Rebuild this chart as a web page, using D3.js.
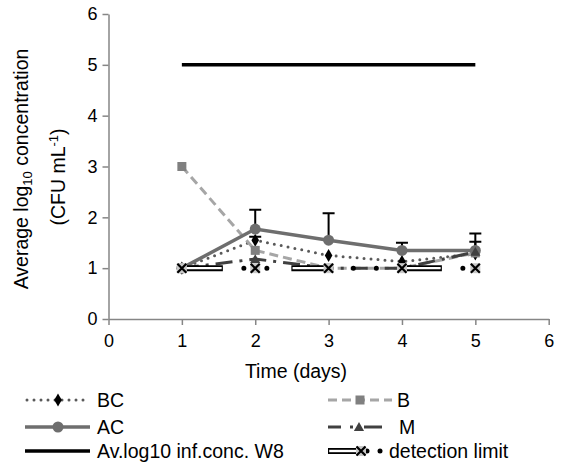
<!DOCTYPE html>
<html>
<head>
<meta charset="utf-8">
<script src="https://cdn.jsdelivr.net/npm/d3@7"></script>
<style>
  html, body { margin: 0; padding: 0; background: #fff; }
  svg { display: block; font-family: "Liberation Sans", Arial, sans-serif; }
</style>
</head>
<body>
<svg id="chart" width="567" height="466"></svg>
<script>
// Sampling days
const days = [1, 2, 3, 4, 5];
// Average log10 concentrations per treatment
const seriesBC = [1.0, 1.55, 1.25, 1.13, 1.28];
const seriesB  = [3.0, 1.35, 1.0, 1.0, 1.3];
const seriesAC = [1.0, 1.77, 1.55, 1.35, 1.35];
const seriesM  = [1.0, 1.18, 1.0, 1.0, 1.32];
const seriesW8 = [5, 5, 5, 5, 5];
const detectionLimit = [1, 1, 1, 1, 1];
// Error bars (positive direction)
const errAC = [0, 0.38, 0.53, 0.15, 0.33];
const errBC = [0, 0.07, 0, 0, 0.24];
// Axis ticks
const xTicks = [0, 1, 2, 3, 4, 5, 6];
const yTicks = [0, 1, 2, 3, 4, 5, 6];
const legendNames = ["BC", "B", "AC", "M", "Av.log10 inf.conc. W8", "detection limit"];

const svg = d3.select("#chart");
const x = d3.scaleLinear().domain([0, 6]).range([108.5, 548.7]);
const y = d3.scaleLinear().domain([0, 6]).range([319, 14]);
const axisColor = "#868686";
const tickFs = 18;
const fs = 19.5;

// Axes
const gx = svg.append("g").attr("transform", `translate(0,${y(0)})`)
  .call(d3.axisBottom(x).tickValues(xTicks).tickFormat(d3.format("d"))
    .tickSize(6).tickSizeOuter(0).tickPadding(6));
const gy = svg.append("g").attr("transform", `translate(${x(0)},0)`)
  .call(d3.axisLeft(y).tickValues(yTicks).tickFormat(d3.format("d"))
    .tickSize(6).tickSizeOuter(0).tickPadding(5));
[gx, gy].forEach(g => {
  g.select(".domain").attr("stroke", axisColor).attr("stroke-width", 1.5);
  g.selectAll(".tick line").attr("stroke", axisColor).attr("stroke-width", 1.5);
  g.selectAll(".tick text").attr("fill", "#000").attr("font-size", tickFs)
    .attr("font-family", "Liberation Sans, Arial, sans-serif");
});
gx.selectAll(".tick text").attr("dy", "0.9em");

// Axis titles
svg.append("text").attr("x", 296).attr("y", 378).attr("text-anchor", "middle")
  .attr("font-size", fs).text("Time (days)");
const yt1 = svg.append("text").attr("transform", "translate(28,169) rotate(-90)")
  .attr("text-anchor", "middle").attr("font-size", fs);
yt1.append("tspan").text("Average log");
yt1.append("tspan").attr("font-size", 13).attr("dy", 4).text("10");
yt1.append("tspan").attr("dy", -4).text(" concentration");
const yt2 = svg.append("text").attr("transform", "translate(65,177) rotate(-90)")
  .attr("text-anchor", "middle").attr("font-size", fs);
yt2.append("tspan").text("(CFU mL");
yt2.append("tspan").attr("font-size", 13).attr("dy", -7).text("-1");
yt2.append("tspan").attr("dy", 7).text(")");

const line = d3.line().x(d => x(d[0])).y(d => y(d[1]));
const pts = vals => days.map((d, i) => [d, vals[i]]);

// Marker symbols
function diamond(g, cx, cy) {
  g.append("path").attr("d", d3.symbol(d3.symbolDiamond, 50)())
    .attr("transform", `translate(${cx},${cy})`).attr("fill", "#000");
}
function square(g, cx, cy) {
  g.append("rect").attr("x", cx - 4.5).attr("y", cy - 4.5).attr("width", 9).attr("height", 9)
    .attr("fill", "#808080");
}
function circle(g, cx, cy) {
  g.append("circle").attr("cx", cx).attr("cy", cy).attr("r", 5.5).attr("fill", "#6e6e6e");
}
function triangle(g, cx, cy) {
  g.append("path").attr("d", d3.symbol(d3.symbolTriangle, 45)())
    .attr("transform", `translate(${cx},${cy + 1})`).attr("fill", "#404040");
}
function crossBox(g, cx, cy) {
  g.append("rect").attr("x", cx - 5).attr("y", cy - 5).attr("width", 10).attr("height", 10)
    .attr("fill", "#c8c8c8");
  g.append("path").attr("d", `M${cx - 4.5},${cy - 4.5}L${cx + 4.5},${cy + 4.5}M${cx + 4.5},${cy - 4.5}L${cx - 4.5},${cy + 4.5}`)
    .attr("stroke", "#000").attr("stroke-width", 2.2);
}

// Detection limit line style: double-outlined bar, then two dots, repeating
function detectionStroke(g, dAttr, period, bar, dot1, dot2) {
  g.append("path").attr("d", dAttr).attr("fill", "none").attr("stroke", "#000")
    .attr("stroke-width", 5).attr("stroke-linecap", "round")
    .attr("stroke-dasharray", `0 ${dot2 - dot1} 0 ${period - (dot2 - dot1)}`)
    .attr("stroke-dashoffset", period - dot1);
  g.append("path").attr("d", dAttr).attr("fill", "none").attr("stroke", "#000")
    .attr("stroke-width", 6).attr("stroke-dasharray", `${bar} ${period - bar}`);
  g.append("path").attr("d", dAttr).attr("fill", "none").attr("stroke", "#fff")
    .attr("stroke-width", 2.4).attr("stroke-dasharray", `0 1.2 ${bar - 2.4} ${period - bar + 1.2}`);
}

const styles = {
  BC: { color: "#595959", width: 3, dash: "0 7", cap: "round" },
  B:  { color: "#a6a6a6", width: 3, dash: "9 5", cap: "butt" },
  AC: { color: "#6e6e6e", width: 3.5, dash: null, cap: "butt" },
  M:  { color: "#404040", width: 3, dash: "17 7 3 7", cap: "butt" },
  W8: { color: "#000", width: 3.5, dash: null, cap: "butt" }
};

const plot = svg.append("g");
function drawSeries(vals, st) {
  plot.append("path").attr("d", line(pts(vals))).attr("fill", "none")
    .attr("stroke", st.color).attr("stroke-width", st.width)
    .attr("stroke-linecap", st.cap)
    .attr("stroke-dasharray", st.dash);
}
function errorBars(vals, errs) {
  days.forEach((d, i) => {
    if (!errs[i]) return;
    const cx = x(d), y0 = y(vals[i]), y1 = y(vals[i] + errs[i]);
    plot.append("path").attr("d", `M${cx},${y0}L${cx},${y1}M${cx - 6},${y1}L${cx + 6},${y1}`)
      .attr("stroke", "#000").attr("stroke-width", 2).attr("fill", "none");
  });
}

// BC
drawSeries(seriesBC, styles.BC);
errorBars(seriesBC, errBC);
days.forEach((d, i) => diamond(plot, x(d), y(seriesBC[i])));
// B
drawSeries(seriesB, styles.B);
days.forEach((d, i) => square(plot, x(d), y(seriesB[i])));
// AC
drawSeries(seriesAC, styles.AC);
errorBars(seriesAC, errAC);
days.forEach((d, i) => circle(plot, x(d), y(seriesAC[i])));
// M
drawSeries(seriesM, styles.M);
days.forEach((d, i) => triangle(plot, x(d), y(seriesM[i])));
// Average inflow concentration
drawSeries(seriesW8, styles.W8);
// Detection limit
detectionStroke(plot, line(pts(detectionLimit)), 109.5, 41, 62, 85);
days.forEach((d, i) => crossBox(plot, x(d), y(detectionLimit[i])));

// Legend
const lg = svg.append("g");
function legendLine(x0, x1, yy, st) {
  lg.append("line").attr("x1", x0).attr("x2", x1).attr("y1", yy).attr("y2", yy)
    .attr("stroke", st.color).attr("stroke-width", st.width)
    .attr("stroke-linecap", st.cap).attr("stroke-dasharray", st.dash);
}
function legendText(tx, yy, t) {
  lg.append("text").attr("x", tx).attr("y", yy + 7).attr("font-size", fs).text(t);
}
const r1 = 400, r2 = 427, r3 = 451;
legendLine(27, 88, r1, styles.BC); diamond(lg, 58, r1); legendText(97, r1, legendNames[0]);
legendLine(328, 392, r1, styles.B); square(lg, 360, r1); legendText(397, r1, legendNames[1]);
legendLine(25, 90, r2, styles.AC); circle(lg, 58, r2); legendText(97, r2, legendNames[2]);
lg.append("line").attr("x1", 328).attr("x2", 341).attr("y1", r2).attr("y2", r2)
  .attr("stroke", styles.M.color).attr("stroke-width", 3);
lg.append("line").attr("x1", 350).attr("x2", 353).attr("y1", r2).attr("y2", r2)
  .attr("stroke", styles.M.color).attr("stroke-width", 3);
lg.append("line").attr("x1", 364).attr("x2", 382).attr("y1", r2).attr("y2", r2)
  .attr("stroke", styles.M.color).attr("stroke-width", 3);
triangle(lg, 359, r2); legendText(399, r2, legendNames[3]);
legendLine(25, 90, r3, styles.W8); legendText(97, r3, legendNames[4]);
// detection limit legend key
lg.append("line").attr("x1", 328).attr("x2", 356).attr("y1", r3).attr("y2", r3)
  .attr("stroke", "#000").attr("stroke-width", 6);
lg.append("line").attr("x1", 329.2).attr("x2", 356).attr("y1", r3).attr("y2", r3)
  .attr("stroke", "#fff").attr("stroke-width", 2.4);
lg.append("circle").attr("cx", 367).attr("cy", r3).attr("r", 2.5).attr("fill", "#000");
lg.append("circle").attr("cx", 380).attr("cy", r3).attr("r", 2.5).attr("fill", "#000");
crossBox(lg, 361, r3);
legendText(389, r3, legendNames[5]);
</script>
</body>
</html>
